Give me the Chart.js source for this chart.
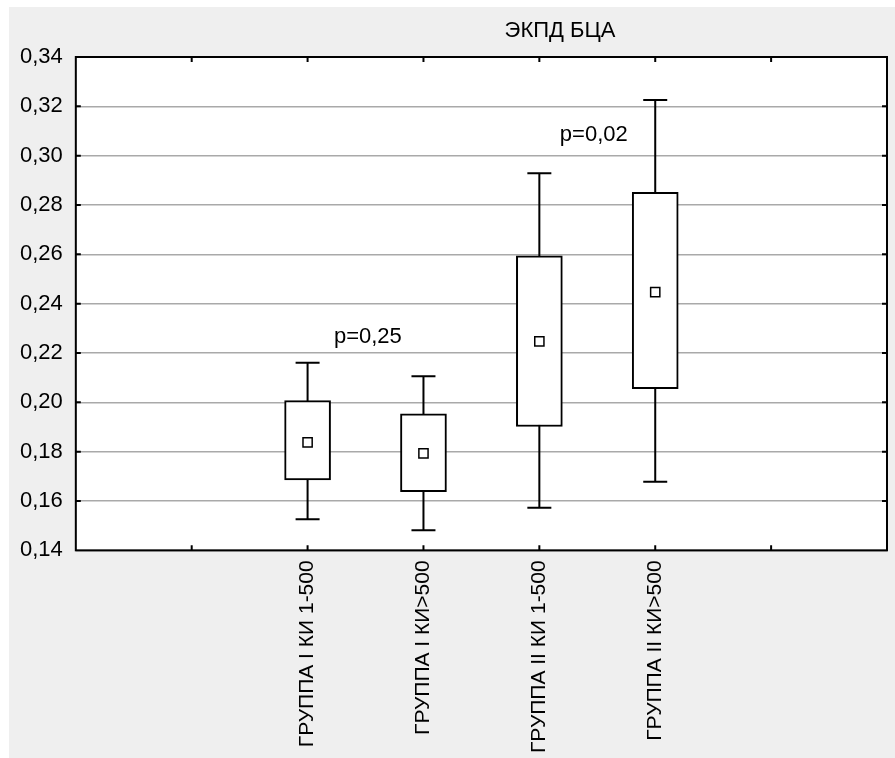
<!DOCTYPE html>
<html>
<head>
<meta charset="utf-8">
<script src="https://cdn.jsdelivr.net/npm/chart.js@4.4.1/dist/chart.umd.min.js"></script>
<style>
  html, body { margin: 0; padding: 0; background: #fff; }
  #wrap { width: 895px; height: 758px; }
</style>
</head>
<body>
<div id="wrap"><canvas id="grafica" width="895" height="758"></canvas></div>
<script>
// datos
const titulo = 'ЭКПД БЦА';
const categories = ['ГРУППА I КИ 1-500', 'ГРУППА I КИ>500', 'ГРУППА II КИ 1-500', 'ГРУППА II КИ>500'];
const whiskerLow  = [0.1526, 0.1481, 0.1573, 0.1678];
const boxLow      = [0.1685, 0.1638, 0.1902, 0.2055];
const means       = [0.1838, 0.1793, 0.2247, 0.2447];
const boxHigh     = [0.2007, 0.1953, 0.2594, 0.2851];
const whiskerHigh = [0.2160, 0.2106, 0.2929, 0.3226];
const yTicks = [0.14, 0.16, 0.18, 0.20, 0.22, 0.24, 0.26, 0.28, 0.30, 0.32, 0.34];
const pTexts = ['p=0,25', 'p=0,02'];
const pAt = [[2.52, 0.2266], [4.47, 0.3084]];

const FONT = '"Liberation Sans", Arial, sans-serif';
const slot = i => i + 2; // las categorias ocupan las posiciones 2..5 del eje

function fmt(v) {
    return v.toFixed(2).replace('.', ',');
}

const fondo = {
    id: 'fondo',
    beforeDraw(chart) {
        const ctx = chart.ctx, a = chart.chartArea;
        ctx.save();
        ctx.fillStyle = '#ffffff';
        ctx.fillRect(0, 0, chart.width, chart.height);
        ctx.fillStyle = '#efefef';
        ctx.fillRect(9, 7, chart.width - 9, chart.height - 7);
        ctx.fillStyle = '#ffffff';
        ctx.fillRect(a.left, a.top, a.right - a.left, a.bottom - a.top);
        ctx.restore();
    }
};

const bigotes = {
    id: 'bigotes',
    beforeDatasetsDraw(chart) {
        const ctx = chart.ctx, x = chart.scales.x, y = chart.scales.y;
        ctx.save();
        ctx.strokeStyle = '#000';
        ctx.lineWidth = 2;
        categories.forEach((c, i) => {
            const px = x.getPixelForValue(slot(i));
            const lo = y.getPixelForValue(whiskerLow[i]);
            const hi = y.getPixelForValue(whiskerHigh[i]);
            ctx.beginPath();
            ctx.moveTo(px, lo); ctx.lineTo(px, hi);
            ctx.moveTo(px - 12, lo); ctx.lineTo(px + 12, lo);
            ctx.moveTo(px - 12, hi); ctx.lineTo(px + 12, hi);
            ctx.stroke();
        });
        ctx.restore();
    },
    afterDatasetsDraw(chart) {
        const ctx = chart.ctx, x = chart.scales.x, y = chart.scales.y;
        ctx.save();
        ctx.fillStyle = '#000';
        ctx.font = '22px ' + FONT;
        ctx.textAlign = 'center';
        ctx.textBaseline = 'middle';
        pTexts.forEach((t, i) => {
            ctx.fillText(t, x.getPixelForValue(pAt[i][0]), y.getPixelForValue(pAt[i][1]));
        });
        ctx.restore();
    }
};

const marco = {
    id: 'marco',
    afterDraw(chart) {
        const ctx = chart.ctx, a = chart.chartArea, x = chart.scales.x, y = chart.scales.y;
        ctx.save();
        ctx.strokeStyle = '#000';
        ctx.lineWidth = 2;
        ctx.strokeRect(a.left, a.top, a.right - a.left, a.bottom - a.top);
        ctx.beginPath();
        x.ticks.forEach(t => {
            const px = x.getPixelForValue(t.value);
            ctx.moveTo(px, a.bottom); ctx.lineTo(px, a.bottom - 5);
            ctx.moveTo(px, a.top); ctx.lineTo(px, a.top + 5);
        });
        yTicks.slice(1, -1).forEach(v => {
            const py = y.getPixelForValue(v);
            ctx.moveTo(a.left, py); ctx.lineTo(a.left + 5, py);
            ctx.moveTo(a.right, py); ctx.lineTo(a.right - 5, py);
        });
        ctx.stroke();
        ctx.fillStyle = '#000';
        ctx.font = '22px ' + FONT;
        ctx.textAlign = 'center';
        ctx.textBaseline = 'middle';
        ctx.fillText(titulo, 560, 31);
        ctx.restore();
    }
};

const ctx = document.getElementById('grafica');
const mychart = new Chart(ctx, {
    type: 'bar',
    data: {
        datasets: [{
            type: 'bar',
            data: categories.map((c, i) => ({ x: slot(i), y: [boxLow[i], boxHigh[i]] })),
            backgroundColor: '#ffffff',
            borderColor: '#000000',
            borderWidth: 2,
            borderSkipped: false,
            barThickness: 46,
            order: 2
        }, {
            type: 'scatter',
            data: categories.map((c, i) => ({ x: slot(i), y: means[i] })),
            pointStyle: 'rect',
            radius: 6.5,
            backgroundColor: '#ffffff',
            borderColor: '#000000',
            borderWidth: 1.5,
            order: 1
        }]
    },
    options: {
        responsive: false,
        animation: false,
        layout: { padding: { left: 7, top: 57, right: -1, bottom: -5 } },
        plugins: {
            legend: { display: false },
            tooltip: { enabled: false }
        },
        scales: {
            x: {
                type: 'linear',
                min: 0,
                max: 7,
                offset: false,
                afterBuildTicks: axis => { axis.ticks = [1, 2, 3, 4, 5, 6].map(v => ({ value: v })); },
                grid: { display: false, drawTicks: false, offset: false },
                border: { display: false },
                ticks: {
                    autoSkip: false,
                    minRotation: 90,
                    maxRotation: 90,
                    padding: 10,
                    color: '#000',
                    font: { family: FONT, size: 21 },
                    callback: v => (v >= 2 && v <= 5) ? categories[v - 2] : ''
                }
            },
            y: {
                min: yTicks[0],
                max: yTicks[yTicks.length - 1],
                afterBuildTicks: axis => { axis.ticks = yTicks.map(v => ({ value: v })); },
                grid: { color: '#a9a9a9', lineWidth: 1.5, drawTicks: false },
                border: { display: false },
                ticks: {
                    padding: 13,
                    color: '#000',
                    font: { family: FONT, size: 22 },
                    callback: v => fmt(v)
                }
            }
        }
    },
    plugins: [fondo, bigotes, marco]
});
</script>
</body>
</html>
